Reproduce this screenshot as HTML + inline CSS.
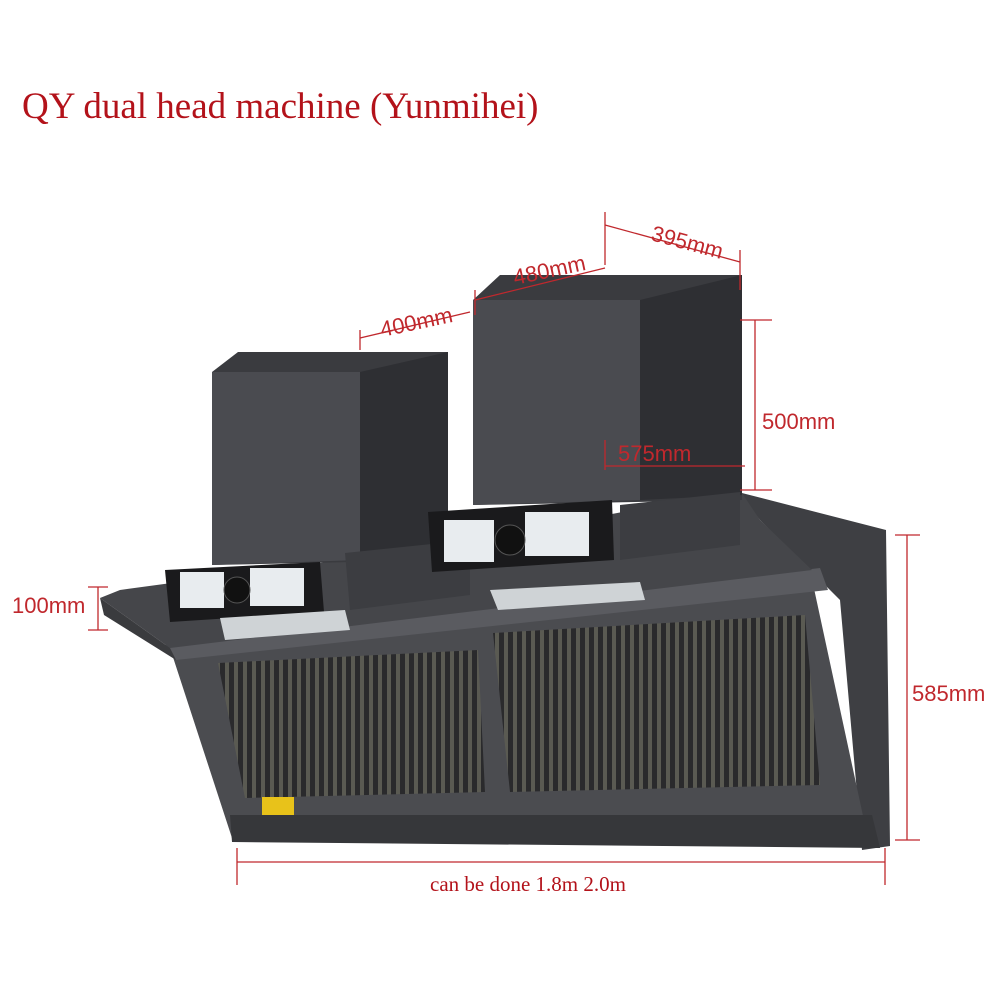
<!DOCTYPE html>
<html><head><meta charset="utf-8"><style>
html,body{margin:0;padding:0;background:#fff;}
svg{display:block}
.d{font-family:"Liberation Sans",sans-serif;font-size:22px;fill:#c0282d;font-weight:500}
.s{font-family:"Liberation Serif",serif;fill:#b3121a}
</style></head><body>
<svg width="1006" height="1006" viewBox="0 0 1006 1006" xmlns="http://www.w3.org/2000/svg">
<defs>
<pattern id="g" width="9" height="10" patternUnits="userSpaceOnUse">
<rect width="9" height="10" fill="#2a2a2c"/><rect x="0" width="4" height="10" fill="#5a5a52"/>
</pattern>
</defs>
<text x="22" y="118" class="s" font-size="37">QY dual head machine (Yunmihei)</text>

<polygon points="738,492 886,530 890,846 862,850 840,600 760,520" fill="#3e3f43"/>
<polygon points="170,648 810,570 865,825 232,838" fill="#4b4c50"/>
<polygon points="165,645 820,568 828,590 176,660" fill="#5a5b60"/>
<polygon points="100,598 120,590 430,548 740,490 760,520 812,570 170,648" fill="#45464a"/>
<polygon points="100,598 170,648 176,660 104,615" fill="#3a3b3e"/>
<polygon points="230,815 872,815 880,848 232,842" fill="#36373a"/>
<polygon points="218,663 478,650 485,792 245,798" fill="url(#g)"/>
<polygon points="493,633 805,615 820,785 510,792" fill="url(#g)"/>
<rect x="262" y="797" width="32" height="18" fill="#e8c21a"/>

<polygon points="212,372 238,352 448,352 448,560 212,565" fill="#3a3b3f"/>
<polygon points="212,372 360,372 360,560 212,565" fill="#4a4b50"/>
<polygon points="360,372 448,352 448,555 360,560" fill="#2e2f33"/>
<polygon points="473,300 500,275 742,275 742,500 473,505" fill="#3a3b3f"/>
<polygon points="473,300 640,300 640,500 473,505" fill="#4a4b50"/>
<polygon points="640,300 742,275 742,495 640,500" fill="#2e2f33"/>

<polygon points="345,553 470,540 470,595 350,610" fill="#3c3d41"/>
<polygon points="620,505 740,492 740,545 620,560" fill="#3c3d41"/>

<polygon points="165,570 320,562 324,612 170,622" fill="#1a1a1c"/>
<rect x="180" y="572" width="44" height="36" fill="#e8ecef"/>
<rect x="250" y="568" width="54" height="38" fill="#e8ecef"/>
<circle cx="237" cy="590" r="13" fill="#111" stroke="#555"/>
<polygon points="220,618 345,610 350,630 225,640" fill="#cfd3d6"/>
<polygon points="428,512 612,500 614,560 432,572" fill="#1a1a1c"/>
<rect x="444" y="520" width="50" height="42" fill="#e8ecef"/>
<rect x="525" y="512" width="64" height="44" fill="#e8ecef"/>
<circle cx="510" cy="540" r="15" fill="#111" stroke="#555"/>
<polygon points="490,590 640,582 645,600 498,610" fill="#cfd3d6"/>

<g stroke="#c0282d" stroke-width="1.3" fill="none">
<line x1="605" y1="225" x2="740" y2="262"/><line x1="605" y1="212" x2="605" y2="265"/><line x1="740" y1="250" x2="740" y2="290"/>
<line x1="475" y1="300" x2="605" y2="268"/><line x1="475" y1="290" x2="475" y2="315"/>
<line x1="360" y1="338" x2="470" y2="312"/><line x1="360" y1="330" x2="360" y2="350"/>
<line x1="755" y1="320" x2="755" y2="490"/><line x1="740" y1="320" x2="772" y2="320"/><line x1="740" y1="490" x2="772" y2="490"/>
<line x1="605" y1="466" x2="745" y2="466"/><line x1="605" y1="440" x2="605" y2="470"/>
<line x1="98" y1="587" x2="98" y2="630"/><line x1="88" y1="587" x2="108" y2="587"/><line x1="88" y1="630" x2="108" y2="630"/>
<line x1="907" y1="535" x2="907" y2="840"/><line x1="895" y1="535" x2="920" y2="535"/><line x1="895" y1="840" x2="920" y2="840"/>
<line x1="237" y1="862" x2="885" y2="862"/><line x1="237" y1="848" x2="237" y2="885"/><line x1="885" y1="848" x2="885" y2="885"/>
</g>
<text class="d" transform="translate(650,240) rotate(15)">395mm</text>
<text class="d" transform="translate(515,285) rotate(-12)">480mm</text>
<text class="d" transform="translate(382,337) rotate(-12)">400mm</text>
<text class="d" x="762" y="429">500mm</text>
<text class="d" x="618" y="461">575mm</text>
<text class="d" x="12" y="613">100mm</text>
<text class="d" x="912" y="701">585mm</text>
<text x="528" y="891" class="s" font-size="21" text-anchor="middle">can be done 1.8m 2.0m</text>
</svg>
</body></html>
